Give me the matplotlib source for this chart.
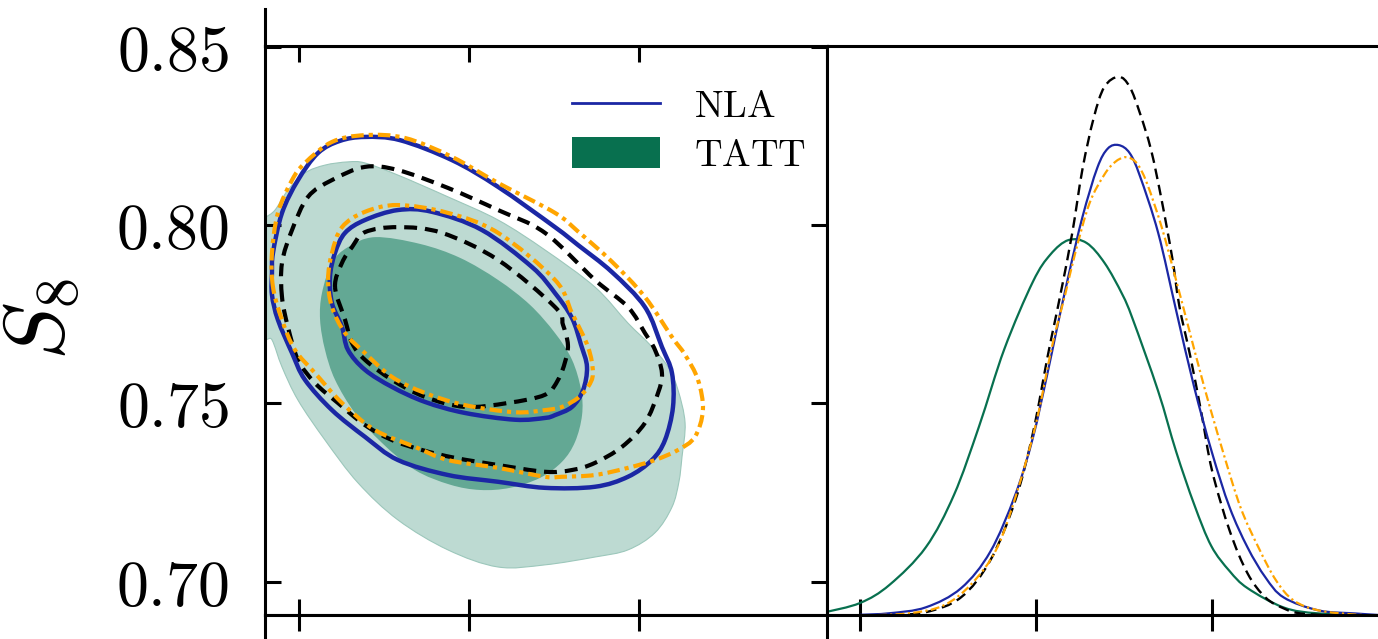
import numpy as np
import matplotlib
matplotlib.use("Agg")
import matplotlib.pyplot as plt
from matplotlib.lines import Line2D
from matplotlib.patches import Patch, PathPatch
from matplotlib.path import Path

plt.rcParams["mathtext.fontset"] = "cm"
plt.rcParams["font.family"] = ["DejaVu Serif"]

# ---------------- 2D marginal: x parameter vs S8 (contour outlines) ----------------
# TATT credible regions (filled)
tatt_95_x = [0.1759, 0.1800, 0.1859, 0.1935, 0.2035, 0.2153, 0.2288, 0.2388, 0.2582, 0.2876,
             0.3171, 0.3447, 0.3741, 0.3935, 0.4065, 0.4171, 0.4229, 0.4271, 0.4253, 0.4235,
             0.4194, 0.4094, 0.3935, 0.3741, 0.3447, 0.3171, 0.2876, 0.2582, 0.2347, 0.2153,
             0.1994, 0.1900, 0.1841, 0.1782]
tatt_95_s8 = [0.8000, 0.8020, 0.8042, 0.8098, 0.8146, 0.8168, 0.8177, 0.8174, 0.8140, 0.8079,
              0.8014, 0.7930, 0.7826, 0.7725, 0.7664, 0.7602, 0.7538, 0.7445, 0.7350, 0.7280,
              0.7209, 0.7137, 0.7089, 0.7069, 0.7047, 0.7041, 0.7089, 0.7173, 0.7277, 0.7397,
              0.7509, 0.7602, 0.7678, 0.7706]
tatt_68_x = [0.2447, 0.2712, 0.2947, 0.3171, 0.3359, 0.3506, 0.3606, 0.3659, 0.3665, 0.3624,
             0.3547, 0.3418, 0.3241, 0.3065, 0.2888, 0.2682, 0.2488, 0.2329, 0.2212, 0.2153,
             0.2124, 0.2135, 0.2194, 0.2288]
tatt_68_s8 = [0.7966, 0.7947, 0.7908, 0.7846, 0.7776, 0.7697, 0.7622, 0.7538, 0.7467, 0.7392,
              0.7336, 0.7291, 0.7263, 0.7257, 0.7272, 0.7313, 0.7389, 0.7473, 0.7566, 0.7650,
              0.7734, 0.7809, 0.7894, 0.7938]

# NLA credible regions (solid blue)
nla_95_x = [0.1841, 0.1847, 0.1900, 0.1994, 0.2112, 0.2241, 0.2388, 0.2594, 0.2900, 0.3171,
            0.3506, 0.3641, 0.3841, 0.4035, 0.4135, 0.4194, 0.4200, 0.4153, 0.4076, 0.3935,
            0.3741, 0.3447, 0.3171, 0.2876, 0.2582, 0.2388, 0.2194, 0.2035, 0.1959, 0.1876,
            0.1841]
nla_95_s8 = [0.7866, 0.7922, 0.8034, 0.8126, 0.8202, 0.8236, 0.8247, 0.8238, 0.8182, 0.8107,
             0.7994, 0.7944, 0.7868, 0.7770, 0.7658, 0.7585, 0.7490, 0.7397, 0.7341, 0.7294,
             0.7266, 0.7263, 0.7280, 0.7299, 0.7341, 0.7406, 0.7481, 0.7566, 0.7641, 0.7734,
             0.7804]
nla_68_x = [0.2182, 0.2212, 0.2271, 0.2388, 0.2582, 0.2782, 0.3076, 0.3371, 0.3506, 0.3606,
            0.3659, 0.3694, 0.3671, 0.3606, 0.3506, 0.3447, 0.3271, 0.2976, 0.2741, 0.2547,
            0.2388, 0.2288, 0.2253, 0.2194]
nla_68_s8 = [0.7854, 0.7922, 0.7978, 0.8014, 0.8042, 0.8037, 0.7986, 0.7882, 0.7809, 0.7739,
             0.7664, 0.7602, 0.7537, 0.7490, 0.7467, 0.7459, 0.7454, 0.7473, 0.7504, 0.7546,
             0.7594, 0.7650, 0.7714, 0.7781]

# Reference run (black dashed)
ref_95_x = [0.1900, 0.1900, 0.1959, 0.2053, 0.2194, 0.2388, 0.2582, 0.2876, 0.3171, 0.3447,
            0.3741, 0.3935, 0.4035, 0.4094, 0.4135, 0.4112, 0.4035, 0.3900, 0.3741, 0.3606,
            0.3447, 0.3171, 0.2918, 0.2724, 0.2547, 0.2388, 0.2229, 0.2094, 0.1994, 0.1935]
ref_95_s8 = [0.7798, 0.7894, 0.7986, 0.8079, 0.8126, 0.8163, 0.8154, 0.8104, 0.8042, 0.7978,
             0.7846, 0.7770, 0.7697, 0.7650, 0.7585, 0.7529, 0.7445, 0.7378, 0.7333, 0.7313,
             0.7308, 0.7327, 0.7347, 0.7369, 0.7397, 0.7439, 0.7501, 0.7557, 0.7622, 0.7714]
ref_68_x = [0.2212, 0.2253, 0.2312, 0.2388, 0.2582, 0.2841, 0.3171, 0.3506, 0.3553, 0.3582,
            0.3565, 0.3524, 0.3447, 0.3229, 0.2976, 0.2741, 0.2547, 0.2388, 0.2312, 0.2271]
ref_68_s8 = [0.7826, 0.7894, 0.7938, 0.7980, 0.7994, 0.7978, 0.7902, 0.7770, 0.7720, 0.7664,
             0.7616, 0.7566, 0.7524, 0.7501, 0.7490, 0.7518, 0.7566, 0.7622, 0.7669, 0.7734]

# Alternative run (orange dash-dot)
alt_95_x = [0.1847, 0.1841, 0.1876, 0.1959, 0.2035, 0.2194, 0.2388, 0.2624, 0.2900, 0.3171,
            0.3506, 0.3641, 0.3841, 0.4035, 0.4194, 0.4271, 0.4347, 0.4376, 0.4329, 0.4229,
            0.4094, 0.3935, 0.3741, 0.3547, 0.3447, 0.3171, 0.2876, 0.2682, 0.2447, 0.2253,
            0.2094, 0.1976, 0.1900]
alt_95_s8 = [0.7826, 0.7922, 0.8034, 0.8126, 0.8174, 0.8233, 0.8252, 0.8244, 0.8191, 0.8118,
             0.8034, 0.7982, 0.7897, 0.7798, 0.7686, 0.7636, 0.7566, 0.7481, 0.7406, 0.7369,
             0.7341, 0.7319, 0.7299, 0.7294, 0.7294, 0.7319, 0.7341, 0.7378, 0.7425, 0.7501,
             0.7585, 0.7650, 0.7734]
alt_68_x = [0.2171, 0.2194, 0.2253, 0.2388, 0.2582, 0.2876, 0.3171, 0.3506, 0.3606, 0.3700,
            0.3729, 0.3700, 0.3641, 0.3547, 0.3447, 0.3271, 0.2976, 0.2741, 0.2547, 0.2388,
            0.2271, 0.2194]
alt_68_s8 = [0.7846, 0.7922, 0.7994, 0.8037, 0.8056, 0.8034, 0.7978, 0.7846, 0.7753, 0.7658,
             0.7585, 0.7546, 0.7515, 0.7490, 0.7481, 0.7475, 0.7495, 0.7529, 0.7574, 0.7641,
             0.7697, 0.7770]

# ---------------- 1D marginal of S8 ----------------
tatt_1d_s8 = [0.6900, 0.6999, 0.7083, 0.7186, 0.7266, 0.7337, 0.7409, 0.7490, 0.7540, 0.7591,
              0.7643, 0.7694, 0.7744, 0.7774, 0.7846, 0.7897, 0.7949, 0.7997, 0.8049, 0.8100,
              0.8203, 0.8303, 0.8474]
tatt_1d_p = [0.145, 0.55, 1.35, 3.00, 5.30, 8.30, 11.70, 14.65, 15.85, 16.48,
             16.35, 15.47, 14.10, 13.00, 9.85, 7.20, 4.85, 3.05, 1.95, 1.20,
             0.35, 0.09, 0.0]
nla_1d_s8 = [0.6999, 0.7083, 0.7186, 0.7286, 0.7369, 0.7440, 0.7490, 0.7531, 0.7557, 0.7591,
             0.7631, 0.7673, 0.7703, 0.7734, 0.7765, 0.7794, 0.7846, 0.7897, 0.7948, 0.7999,
             0.8049, 0.8100, 0.8151, 0.8203, 0.8303, 0.8406, 0.8474]
nla_1d_p = [0.03, 0.10, 0.36, 1.20, 2.80, 5.30, 7.80, 10.60, 12.50, 14.90,
            17.50, 19.65, 20.50, 20.65, 20.30, 19.30, 16.80, 13.40, 10.05, 7.15,
            4.75, 2.99, 1.67, 0.79, 0.22, 0.09, 0.02]
ref_1d_s8 = [0.6999, 0.7083, 0.7186, 0.7286, 0.7369, 0.7440, 0.7490, 0.7531, 0.7551, 0.7571,
             0.7602, 0.7631, 0.7663, 0.7693, 0.7734, 0.7765, 0.7794, 0.7826, 0.7856, 0.7886,
             0.7906, 0.7937, 0.7969, 0.7999, 0.8049, 0.8100, 0.8151, 0.8203, 0.8251, 0.8337]
ref_1d_p = [0.0, 0.03, 0.145, 0.80, 2.42, 5.05, 8.00, 11.30, 12.80, 14.30,
            16.80, 19.60, 21.85, 23.20, 23.65, 23.21, 22.06, 20.43, 18.23, 15.70,
            13.60, 11.40, 8.88, 6.37, 3.73, 1.85, 0.79, 0.31, 0.09, 0.0]
alt_1d_s8 = [0.6999, 0.7134, 0.7236, 0.7317, 0.7389, 0.7449, 0.7500, 0.7540, 0.7560, 0.7582,
             0.7611, 0.7651, 0.7693, 0.7723, 0.7754, 0.7785, 0.7814, 0.7856, 0.7897, 0.7927,
             0.7977, 0.8029, 0.8080, 0.8131, 0.8181, 0.8231, 0.8303, 0.8406, 0.8474]
alt_1d_p = [0.0, 0.09, 0.44, 1.41, 2.99, 5.62, 8.50, 11.50, 12.80, 14.10,
            15.95, 18.10, 19.35, 19.90, 20.12, 19.86, 18.98, 17.05, 14.72, 12.96,
            10.03, 7.25, 4.75, 2.99, 1.54, 0.66, 0.22, 0.04, 0.0]

# ---------------- axes ranges and ticks ----------------
x_lim = (0.18, 0.5106)
s8_lim = (0.6905, 0.8502)
p_lim = (0.0, 25.0)
x_ticks = [0.2, 0.3, 0.4]
s8_ticks = [0.70, 0.75, 0.80, 0.85]
s8_tick_labels = ["0.70", "0.75", "0.80", "0.85"]

# ---------------- styles ----------------
C_BLUE = "#1b27a4"
C_ORANGE = "#ffa500"
C_GREEN = "#08704f"
C_GREEN_DARK_FILL = "#63a894"
C_GREEN_LIGHT_FILL = "#bddad2"
SPINE_W = 2.2
TICK_LEN = 11.5


def smooth_path(xs, ys, closed):
    """Cubic Bezier path passing through every given point (Catmull-Rom tangents)."""
    p = np.column_stack([xs, ys]).astype(float)
    n = len(p)
    if closed:
        get = lambda i: p[i % n]
        nseg = n
    else:
        get = lambda i: p[min(max(i, 0), n - 1)]
        nseg = n - 1
    verts = [p[0]]
    codes = [Path.MOVETO]
    for i in range(nseg):
        p0, p1, p2, p3 = get(i - 1), get(i), get(i + 1), get(i + 2)
        verts += [p1 + (p2 - p0) / 6.0, p2 - (p3 - p1) / 6.0, p2]
        codes += [Path.CURVE4] * 3
    if closed:
        verts.append(p[0])
        codes.append(Path.CLOSEPOLY)
    return Path(np.array(verts), codes)


fig = plt.figure(figsize=(13.78, 6.39), dpi=100)
L, W = 0.19231, 0.40784
B, H = 0.03678, 0.89123
ax2d = fig.add_axes([L, B, W, H])
ax1d = fig.add_axes([L + W, B, W, H])
ax_top = fig.add_axes([L, B + H, W, 0.0579])
ax_below_l = fig.add_axes([L, B - 0.5, W, 0.5])
ax_below_r = fig.add_axes([L + W, B - 0.5, W, 0.5])

for a in (ax2d, ax1d, ax_top, ax_below_l, ax_below_r):
    for s in a.spines.values():
        s.set_linewidth(SPINE_W)

# --- 2D panel ---
ax2d.add_patch(PathPatch(smooth_path(tatt_95_x, tatt_95_s8, True),
                         facecolor=C_GREEN_LIGHT_FILL, edgecolor="#9cc7bb", lw=0.8, zorder=1))
ax2d.add_patch(PathPatch(smooth_path(tatt_68_x, tatt_68_s8, True),
                         facecolor=C_GREEN_DARK_FILL, edgecolor="none", zorder=1.1))

for xs, ys in ((ref_95_x, ref_95_s8), (ref_68_x, ref_68_s8)):
    ax2d.add_patch(PathPatch(smooth_path(xs, ys, True), fill=False, edgecolor="black",
                             lw=3.0, ls=(0, (3.1, 1.9)), zorder=2))
for xs, ys in ((nla_95_x, nla_95_s8), (nla_68_x, nla_68_s8)):
    ax2d.add_patch(PathPatch(smooth_path(xs, ys, True), fill=False, edgecolor=C_BLUE,
                             lw=3.2, zorder=3))
for xs, ys in ((alt_95_x, alt_95_s8), (alt_68_x, alt_68_s8)):
    ax2d.add_patch(PathPatch(smooth_path(xs, ys, True), fill=False, edgecolor=C_ORANGE,
                             lw=3.0, ls=(0, (3.0, 1.2, 1.0, 1.2)), zorder=4))

ax2d.set_xlim(*x_lim)
ax2d.set_ylim(*s8_lim)
ax2d.set_xticks(x_ticks)
ax2d.set_xticklabels([])
ax2d.set_yticks(s8_ticks)
ax2d.set_yticklabels([f"${t}$" for t in s8_tick_labels])
ax2d.tick_params(axis="x", direction="in", top=True, bottom=True,
                 length=TICK_LEN, width=SPINE_W)
ax2d.tick_params(axis="y", direction="in", left=True, right=True,
                 length=TICK_LEN, width=SPINE_W, labelsize=46, pad=26)
ax2d.set_ylabel(r"$S_8$", fontsize=62)
ax2d.yaxis.set_label_coords(-0.325, 0.52)

handles = [Line2D([], [], color=C_BLUE, lw=2.0),
           Patch(facecolor=C_GREEN, edgecolor="none")]
ax2d.legend(handles, [r"$\mathrm{NLA}$", r"$\mathrm{TATT}$"], loc="upper right",
            bbox_to_anchor=(0.99, 0.952), frameon=False, fontsize=27.5,
            handlelength=2.3, handleheight=0.85, handletextpad=0.9, labelspacing=0.32,
            borderaxespad=0.0)

# --- 1D panel ---
ax1d.add_patch(PathPatch(smooth_path(tatt_1d_s8, tatt_1d_p, False), fill=False,
                         edgecolor=C_GREEN, lw=1.6, zorder=2))
ax1d.add_patch(PathPatch(smooth_path(ref_1d_s8, ref_1d_p, False), fill=False,
                         edgecolor="black", lw=1.7, ls=(0, (4.5, 2.5)), zorder=3))
ax1d.add_patch(PathPatch(smooth_path(nla_1d_s8, nla_1d_p, False), fill=False,
                         edgecolor=C_BLUE, lw=1.6, zorder=4))
ax1d.add_patch(PathPatch(smooth_path(alt_1d_s8, alt_1d_p, False), fill=False,
                         edgecolor=C_ORANGE, lw=1.6, ls=(0, (4.0, 1.5, 1.0, 1.5)), zorder=5))
ax1d.set_xlim(*s8_lim)
ax1d.set_ylim(*p_lim)
ax1d.set_xticks(s8_ticks)
ax1d.set_xticklabels([])
ax1d.set_yticks([])
ax1d.tick_params(axis="x", direction="in", top=False, bottom=True,
                 length=TICK_LEN, width=SPINE_W)
ax1d.spines["right"].set_visible(False)

# --- neighbouring panels of the corner layout ---
ax_top.set_xlim(*x_lim)
ax_top.set_xticks([])
ax_top.set_yticks([])
ax_top.spines["top"].set_visible(False)
ax_top.spines["right"].set_visible(False)

for a, lim, ticks in ((ax_below_l, x_lim, x_ticks), (ax_below_r, s8_lim, s8_ticks)):
    a.set_xlim(*lim)
    a.set_xticks(ticks)
    a.set_xticklabels([])
    a.set_yticks([])
    a.tick_params(axis="x", direction="in", top=True, bottom=False,
                  length=TICK_LEN, width=SPINE_W)
    a.spines["right"].set_visible(False)
    a.spines["bottom"].set_visible(False)

fig.savefig("out.png", dpi=100)
